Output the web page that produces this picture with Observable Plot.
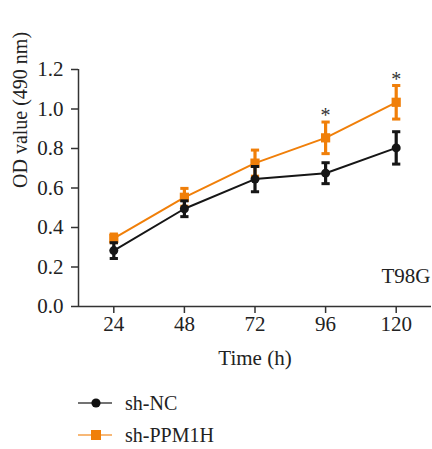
<!DOCTYPE html>
<html><head><meta charset="utf-8">
<script src="https://cdn.jsdelivr.net/npm/d3@7"></script>
<script src="https://cdn.jsdelivr.net/npm/@observablehq/plot@0.6"></script>
<style>
body{margin:0;background:#fff;font-family:"Liberation Serif","DejaVu Serif",serif;}
#wrap{position:relative;width:432px;height:449px;}
.leg{position:absolute;left:77px;height:24px;display:flex;align-items:center;font-size:20px;color:#222;}
.leg svg{margin-right:12px;}
</style></head>
<body><div id="wrap"><div id="chart"></div>
<div class="leg" style="top:391px"><svg width="36" height="20"><line x1="1" x2="35" y1="10" y2="10" stroke="#444" stroke-width="1.5"/><circle cx="19" cy="10" r="4.6" fill="#111"/></svg>sh-NC</div>
<div class="leg" style="top:423px"><svg width="36" height="20"><line x1="1" x2="35" y1="10" y2="10" stroke="#f5a04a" stroke-width="1.5"/><rect x="14" y="5" width="10" height="10" fill="#f07f09"/></svg>sh-PPM1H</div>
</div>
<script>
const times = [24, 48, 72, 96, 120];
const ncMean = [0.283, 0.495, 0.645, 0.675, 0.803];
const ncErr = [0.04, 0.04, 0.064, 0.053, 0.082];
const ppMean = [0.345, 0.553, 0.726, 0.854, 1.034];
const ppErr = [0.022, 0.045, 0.066, 0.08, 0.085];
const sig = [false, false, false, true, true];
const yTicks = [0, 0.2, 0.4, 0.6, 0.8, 1.0, 1.2];

const nc = times.map((t,i)=>({t, y:ncMean[i], e:ncErr[i]}));
const pp = times.map((t,i)=>({t, y:ppMean[i], e:ppErr[i], sig:sig[i]}));
const black = "#161616", orange = "#f07f09";
const cap = 1.4;
function series(data, color, symbol, r){
  return [
    Plot.line(data, {x:"t", y:"y", stroke:color, strokeWidth:2}),
    Plot.ruleX(data, {x:"t", y1:d=>d.y-d.e, y2:d=>d.y+d.e, stroke:color, strokeWidth:3.2}),
    Plot.link(data, {x1:d=>d.t-cap, x2:d=>d.t+cap, y1:d=>d.y+d.e, y2:d=>d.y+d.e, stroke:color, strokeWidth:3}),
    Plot.link(data, {x1:d=>d.t-cap, x2:d=>d.t+cap, y1:d=>d.y-d.e, y2:d=>d.y-d.e, stroke:color, strokeWidth:3}),
    Plot.dot(data, {x:"t", y:"y", fill:color, symbol, r})
  ];
}
const chart = Plot.plot({
  width:432, height:380,
  marginLeft:78, marginRight:1, marginTop:69, marginBottom:74,
  style:{fontFamily:"Liberation Serif, DejaVu Serif, serif", fontSize:"21px", color:"#222", background:"transparent"},
  x:{domain:[12,132], ticks:times, label:null},
  y:{domain:[0,1.2], ticks:yTicks, label:null},
  marks:[
    ...series(pp, orange, "square", 5.2),
    ...series(nc, black, "circle", 4.5),
    Plot.text(pp.filter(d=>d.sig), {x:"t", y:d=>d.y+d.e, text:()=>"*", dy:-6, fontSize:20, fill:"#333"}),
    Plot.axisX({ticks:times, tickSize:7, tickPadding:3, stroke:"#333", strokeWidth:1.5, fontSize:21}),
    Plot.axisY({ticks:yTicks, tickSize:7, tickPadding:8, tickFormat:d3.format(".1f"), stroke:"#333", strokeWidth:1.5, fontSize:21}),
    Plot.ruleY([0], {stroke:"#333", strokeWidth:1.5}),
    Plot.ruleX([12], {y1:0, y2:1.2, stroke:"#333", strokeWidth:1.5}),
    Plot.text(["Time (h)"], {frameAnchor:"bottom", lineAnchor:"middle", dy:52, fontSize:21, fill:"#222"}),
    Plot.text(["OD value (490 nm)"], {frameAnchor:"left", dx:-58, rotate:-90, fontSize:20, fill:"#222"}),
    Plot.text(["T98G"], {frameAnchor:"bottom-right", lineAnchor:"middle", dx:-1, dy:-30, fontSize:21, fill:"#222", textAnchor:"end"})
  ]
});
document.getElementById("chart").appendChild(chart);
</script></body></html>
